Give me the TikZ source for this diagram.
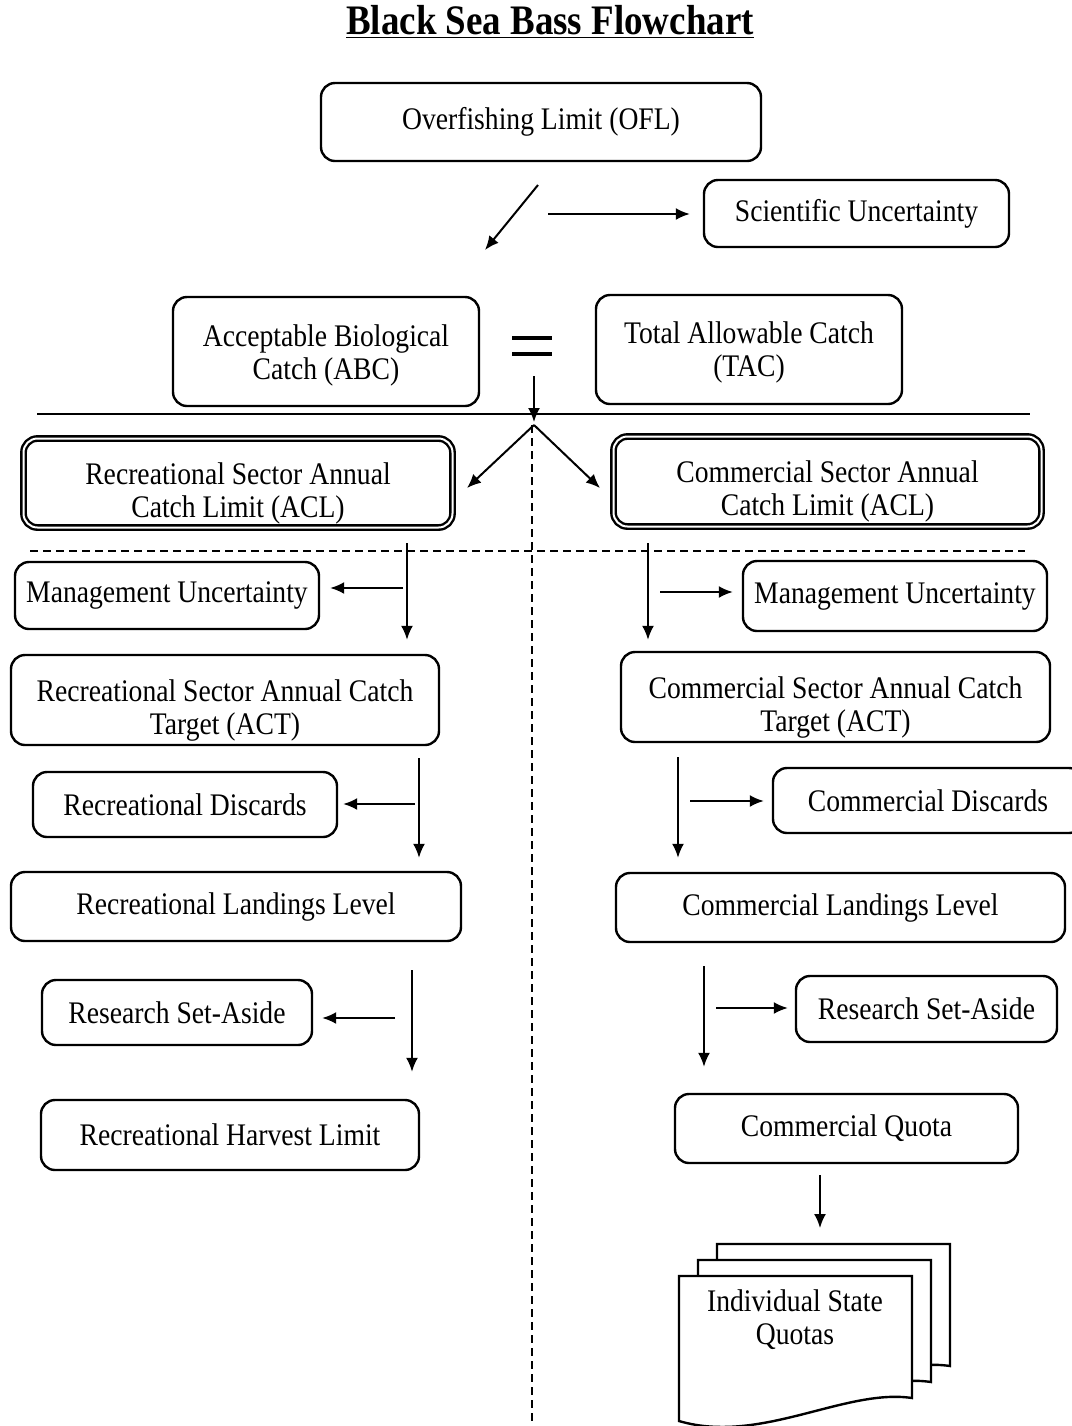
\documentclass[tikz,border=0pt]{standalone}
\usepackage{fontspec}
\setmainfont{Liberation Serif}[FakeStretch=0.88]
\usetikzlibrary{arrows.meta}

\begin{document}
\begin{tikzpicture}[x=0.5pt,y=-0.5pt,>={Latex[length=7pt,width=6pt]},
  every node/.style={font=\fontsize{15.7}{16.5}\selectfont},
  box/.style={draw,rounded corners=7pt,line width=1.2pt,align=center,inner sep=0pt},
  dbox/.style={box,double,double distance=1pt,line width=1.2pt},
  arr/.style={->,line width=1pt},
  sepline/.style={line width=1pt,dash pattern=on 4pt off 2.5pt}]
\useasboundingbox (0,0) rectangle (1072,1426);

\node (title) at (550,22) {\fontsize{21}{25}\selectfont\bfseries\underline{Black Sea Bass Flowchart}};

% top part
\node[box, minimum width=220pt, minimum height=39pt] (ofl) at (541,122) {Overfishing Limit (OFL)};
\node[box, minimum width=152.5pt, minimum height=33.5pt] (sci) at (856.5,213.5) {Scientific Uncertainty};
\node[box, minimum width=153pt, minimum height=54.5pt, text height=31.5pt] (abc) at (326,351.5) {Acceptable Biological\\Catch (ABC)};
\node[box, minimum width=153pt, minimum height=54.5pt, text height=30.5pt] (tac) at (749,349.5) {Total Allowable Catch\\(TAC)};
\draw[line width=1.6pt] (512,338) -- (552,338) (512,354) -- (552,354);

% sector limits
\node[dbox, minimum width=214.5pt, minimum height=44.5pt, text height=37.5pt] (racl) at (238,483) {Recreational Sector Annual\\Catch Limit (ACL)};
\node[dbox, minimum width=214pt, minimum height=45pt, text height=37.5pt] (cacl) at (827.5,481.5) {Commercial Sector Annual\\Catch Limit (ACL)};

% recreational side
\node[box, minimum width=152pt, minimum height=33.5pt] (rmu) at (167,595.5) {Management Uncertainty};
\node[box, minimum width=214pt, minimum height=45pt, text height=37.5pt] (ract) at (225,700) {Recreational Sector Annual Catch\\Target (ACT)};
\node[box, minimum width=152pt, minimum height=32.5pt] (rdis) at (185,804.5) {Recreational Discards};
\node[box, minimum width=225pt, minimum height=34.5pt] (rland) at (236,906.5) {Recreational Landings Level};
\node[box, minimum width=135pt, minimum height=32.5pt] (rrsa) at (177,1012.5) {Research Set-Aside};
\node[box, minimum width=189pt, minimum height=35pt] (rhl) at (230,1135) {Recreational Harvest Limit};

% commercial side
\node[box, minimum width=152pt, minimum height=35pt] (cmu) at (895,596) {Management Uncertainty};
\node[box, minimum width=214.5pt, minimum height=45pt, text height=37.5pt] (cact) at (835.5,697) {Commercial Sector Annual Catch\\Target (ACT)};
\node[box, minimum width=155pt, minimum height=32.5pt] (cdis) at (928,800.5) {Commercial Discards};
\node[box, minimum width=224.5pt, minimum height=34.5pt] (cland) at (840.5,907.5) {Commercial Landings Level};
\node[box, minimum width=130.5pt, minimum height=33pt] (crsa) at (926.5,1009) {Research Set-Aside};
\node[box, minimum width=171.5pt, minimum height=34.5pt] (cq) at (846.5,1128.5) {Commercial Quota};

% stacked documents
\foreach \dx/\dy in {38/-32,19/-16,0/0}
  \draw[line width=1.2pt,fill=white,shift={(\dx,\dy)}] (679,1276) -- (912,1276) -- (912,1398)
    .. controls (845,1388) and (760,1445) .. (679,1421) -- cycle;
\node[align=center] (isq) at (795,1320) {Individual State\\Quotas};

% free arrow ends
\coordinate (d1) at (538,185);
\coordinate (d2) at (485,250);
\coordinate (s1) at (548,214);
\coordinate (j0) at (534,376);
\coordinate (j1) at (534,422);
\coordinate (sp) at (534,425);
\coordinate (sl) at (467,488);
\coordinate (sr) at (600,488);
\coordinate (hl) at (37,414);
\coordinate (hr) at (1030,414);
\coordinate (dl) at (30,551);
\coordinate (dr) at (1025,551);
\coordinate (dt) at (532,425);
\coordinate (db) at (532,1430);
\coordinate (rv1) at (407,543);
\coordinate (rh1) at (403,588);
\coordinate (rv2) at (419,758);
\coordinate (rh2) at (415,804);
\coordinate (rv3) at (412,970);
\coordinate (rh3) at (395,1018);
\coordinate (cv1) at (648,543);
\coordinate (ch1) at (660,592);
\coordinate (cv2) at (678,757);
\coordinate (ch2) at (690,801);
\coordinate (cv3) at (704,966);
\coordinate (ch3) at (716,1008);
\coordinate (qv) at (820,1175);

\draw[arr] (d1) -- (d2);
\draw[arr, shorten >=6.5pt] (s1) -- (sci.west |- s1);
\draw[arr] (j0) -- (j1);
\draw[line width=1.2pt] (hl) -- (hr);
\draw[arr] (sp) -- (sl);
\draw[arr] (sp) -- (sr);
\draw[sepline] (dt) -- (db);
\draw[sepline] (dl) -- (dr);

\draw[arr, shorten >=7pt] (rv1) -- (rv1 |- ract.north);
\draw[arr, shorten >=5pt] (rh1) -- (rmu.east |- rh1);
\draw[arr, shorten >=6.5pt] (rv2) -- (rv2 |- rland.north);
\draw[arr, shorten >=2.5pt] (rh2) -- (rdis.east |- rh2);
\draw[arr, shorten >=13.5pt] (rv3) -- (rv3 |- rhl.north);
\draw[arr, shorten >=4.5pt] (rh3) -- (rrsa.east |- rh3);

\draw[arr, shorten >=5.5pt] (cv1) -- (cv1 |- cact.north);
\draw[arr, shorten >=4.5pt] (ch1) -- (cmu.west |- ch1);
\draw[arr, shorten >=7pt] (cv2) -- (cv2 |- cland.north);
\draw[arr, shorten >=4pt] (ch2) -- (cdis.west |- ch2);
\draw[arr, shorten >=13pt] (cv3) -- (cv3 |- cq.north);
\draw[arr, shorten >=3.5pt] (ch3) -- (crsa.west |- ch3);
\draw[arr, shorten >=8pt] (qv) -- (qv |- 0,1244);
\end{tikzpicture}
\end{document}
